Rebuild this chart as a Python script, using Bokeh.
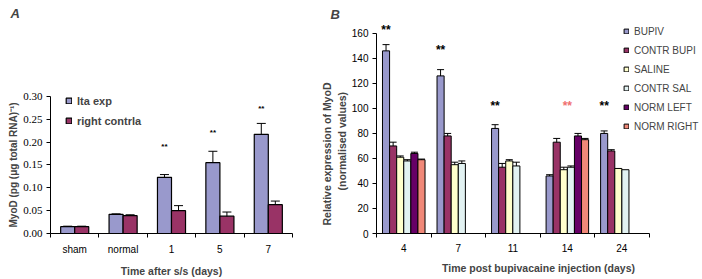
from bokeh.plotting import figure
from bokeh.models import (Range1d, FixedTicker, ColumnDataSource, Whisker, Title,
                          Legend, LegendItem, TeeHead, NumeralTickFormatter)
from bokeh.layouts import row
from bokeh.embed import file_html
from bokeh.resources import INLINE
from bokeh.core.properties import value

# ---------------- Panel A data ----------------
a_categories = ["sham", "normal", "1", "5", "7"]
a_series = ["lta exp", "right contrla"]
a_colors = ["#9999CC", "#993366"]
a_lta = [0.015, 0.042, 0.123, 0.155, 0.217]
a_lta_err = [0.001, 0.001, 0.006, 0.025, 0.024]
a_right = [0.015, 0.039, 0.050, 0.038, 0.063]
a_right_err = [0.001, 0.002, 0.011, 0.009, 0.008]
a_star_y = [None, None, 0.190, 0.222, 0.274]
a_yticks = [0.0, 0.05, 0.10, 0.15, 0.20, 0.25, 0.30]

# ---------------- Panel B data ----------------
b_days = ["4", "7", "11", "14", "24"]
b_series = ["BUPIV", "CONTR BUPI", "SALINE", "CONTR SAL", "NORM LEFT", "NORM RIGHT"]
b_colors = ["#9999CC", "#993366", "#FFFFCC", "#E2F2F2", "#660066", "#F08878"]
b_bupiv = [146, 126, 84, 46, 80]
b_contr_bupi = [70, 78, 53, 73, 66]
b_saline = [61, 55, 58, 51, 52]
b_contr_sal = [58, 56, 54, 53, 51]
b_norm_left = [64, None, None, 78, None]
b_norm_right = [59, None, None, 75, None]
b_bupiv_err = [5, 5, 3, 1, 2]
b_contr_bupi_err = [3, 2, 3, 3, 1]
b_saline_err = [1, 2, 1, 2, 0]
b_contr_sal_err = [1, 2, 3, 1, 0]
b_norm_left_err = [1, None, None, 2, None]
b_norm_right_err = [0.5, None, None, 1, None]
b_star_y = [163, 147, 102, 102, 102]
b_star_on_bupiv = [True, True, True, False, True]
b_star_colors = ["black", "black", "black", "#F07070", "black"]
b_yticks = [0, 20, 40, 60, 80, 100, 120, 140, 160]

SANS = "Liberation Sans"
SERIF = "Liberation Serif"

H = 279
TOP = 22      # top border (px)
BOTTOM = 44   # bottom border (px)
FRAME_H = H - TOP - BOTTOM


def style_axes(p):
    for ax in (p.xaxis, p.yaxis):
        ax.axis_line_color = "black"
        ax.major_tick_line_color = "black"
        ax.minor_tick_line_color = "black"
        ax.major_label_text_color = "black"


# ================= Panel A =================
a_px_per = (234 - 95) / 0.30
pa = figure(width=318, height=H, output_backend="svg", toolbar_location=None,
            x_range=Range1d(0, 5), y_range=Range1d(0, FRAME_H / a_px_per),
            min_border_left=50, min_border_right=26, min_border_top=TOP, min_border_bottom=BOTTOM)
pa.grid.visible = False
pa.outline_line_color = None

bw_a = 0.29
offs_a = [-bw_a / 2, bw_a / 2]
renderers_a = []
for k, (vals, errs) in enumerate([(a_lta, a_lta_err), (a_right, a_right_err)]):
    xs = [i + 0.5 + offs_a[k] for i in range(len(a_categories))]
    src = ColumnDataSource(dict(x=xs, top=vals,
                                upper=[v + e for v, e in zip(vals, errs)],
                                lower=[v - e for v, e in zip(vals, errs)]))
    r = pa.vbar(x="x", top="top", width=bw_a, source=src, fill_color=a_colors[k],
                line_color="black", line_width=1.2)
    renderers_a.append(r)
    pa.add_layout(Whisker(source=src, base="x", upper="upper", lower="lower", dimension="height",
                          line_color="black", line_width=1,
                          upper_head=TeeHead(size=9, line_color="black", line_width=1),
                          lower_head=TeeHead(size=9, line_color="black", line_width=1)))

sx, sy = [], []
for i, y in enumerate(a_star_y):
    if y is not None:
        sx.append(i + 0.5 + offs_a[0])
        sy.append(y)
pa.text(x=sx, y=sy, text=["**"] * len(sx), text_align="center", text_baseline="middle",
        text_font=value(SANS), text_font_size="8px", text_font_style="bold", text_color="black")

centers_a = [i + 0.5 for i in range(len(a_categories))]
pa.xaxis.ticker = FixedTicker(ticks=centers_a, minor_ticks=list(range(len(a_categories) + 1)))
pa.xaxis.major_label_overrides = {c: lab for c, lab in zip(centers_a, a_categories)}
pa.xaxis.major_tick_out = 0
pa.xaxis.major_tick_in = 0
pa.xaxis.minor_tick_out = 4
pa.xaxis.minor_tick_in = 0
pa.xaxis.major_label_standoff = 6
pa.xaxis.major_label_text_font = SANS
pa.xaxis.major_label_text_font_size = "10px"
pa.xaxis.axis_label = "Time after s/s (days)"
pa.xaxis.axis_label_text_font = SANS
pa.xaxis.axis_label_text_font_style = "bold"
pa.xaxis.axis_label_text_font_size = "10.5px"
pa.xaxis.axis_label_standoff = 7

pa.yaxis.ticker = FixedTicker(ticks=a_yticks)
pa.yaxis.formatter = NumeralTickFormatter(format="0.00")
pa.yaxis.bounds = (0, 0.30)
pa.yaxis.major_tick_out = 4
pa.yaxis.major_tick_in = 0
pa.yaxis.minor_tick_out = 0
pa.yaxis.minor_tick_in = 0
pa.yaxis.major_label_standoff = 4
pa.yaxis.major_label_text_font = SERIF
pa.yaxis.major_label_text_font_size = "11px"
style_axes(pa)

pa.add_layout(Title(text="MyoD (pg (\u03bcg total RNA)\u207b\u00b9)", align="left", offset=6,
                    standoff=4, text_font=SANS, text_font_size="10px", text_font_style="bold"), "left")
pa.add_layout(Title(text="A", align="left", offset=-40, standoff=6, vertical_align="bottom",
                    text_font=SANS, text_font_size="13px", text_font_style="bold italic"), "above")

leg_a = Legend(items=[LegendItem(label=s, renderers=[r]) for s, r in zip(a_series, renderers_a)],
               location=(15, 106), border_line_color=None, background_fill_alpha=0,
               padding=0, margin=0, spacing=7, glyph_width=7, glyph_height=7,
               label_standoff=5, label_height=13, label_text_font=SANS,
               label_text_font_size="11px", label_text_font_style="bold")
pa.add_layout(leg_a)

# ================= Panel B =================
b_px_per = (236 - 33) / 160
xr_end = 328 / 55.2
pb = figure(width=384, height=H, output_backend="svg", toolbar_location=None,
            x_range=Range1d(0, xr_end), y_range=Range1d(0, FRAME_H / b_px_per),
            min_border_left=54, min_border_right=2, min_border_top=TOP, min_border_bottom=BOTTOM)
pb.grid.visible = False
pb.outline_line_color = None

bw_b = 0.13
b_values = [b_bupiv, b_contr_bupi, b_saline, b_contr_sal, b_norm_left, b_norm_right]
b_errors = [b_bupiv_err, b_contr_bupi_err, b_saline_err, b_contr_sal_err, b_norm_left_err, b_norm_right_err]
renderers_b = []
for k, (vals, errs) in enumerate(zip(b_values, b_errors)):
    xs, tops, ex = [], [], []
    for i, (v, e) in enumerate(zip(vals, errs)):
        if v is None:
            continue
        x = i + 0.5 + (k - 2.5) * bw_b
        xs.append(x)
        tops.append(v)
        if e:
            ex.append((x, v + e, v - e))
    src = ColumnDataSource(dict(x=xs, top=tops))
    r = pb.vbar(x="x", top="top", width=bw_b, source=src, fill_color=b_colors[k],
                line_color="black", line_width=1)
    renderers_b.append(r)
    if ex:
        esrc = ColumnDataSource(dict(x=[a[0] for a in ex], upper=[a[1] for a in ex],
                                     lower=[a[2] for a in ex]))
        pb.add_layout(Whisker(source=esrc, base="x", upper="upper", lower="lower",
                              dimension="height", line_color="black", line_width=1,
                              upper_head=TeeHead(size=7, line_color="black", line_width=1),
                              lower_head=TeeHead(size=7, line_color="black", line_width=1)))

stx = [i + 0.5 + ((-2.5 * bw_b) if on else 0.0) for i, on in enumerate(b_star_on_bupiv)]
pb.text(x=stx, y=b_star_y, text=["**"] * len(stx), text_color=b_star_colors,
        text_align="center", text_baseline="middle", text_font=value(SANS),
        text_font_size="12px", text_font_style="bold")

centers_b = [i + 0.5 for i in range(len(b_days))]
pb.xaxis.ticker = FixedTicker(ticks=centers_b, minor_ticks=list(range(len(b_days) + 1)))
pb.xaxis.major_label_overrides = {c: lab for c, lab in zip(centers_b, b_days)}
pb.xaxis.bounds = (0, 5)
pb.xaxis.major_tick_out = 0
pb.xaxis.major_tick_in = 0
pb.xaxis.minor_tick_out = 4
pb.xaxis.minor_tick_in = 0
pb.xaxis.major_label_standoff = 6
pb.xaxis.major_label_text_font = SANS
pb.xaxis.major_label_text_font_size = "10px"
pb.xaxis.axis_label = "Time post bupivacaine injection (days)"
pb.xaxis.axis_label_text_font = SANS
pb.xaxis.axis_label_text_font_style = "bold"
pb.xaxis.axis_label_text_font_size = "10.5px"
pb.xaxis.axis_label_standoff = 7

pb.yaxis.ticker = FixedTicker(ticks=b_yticks)
pb.yaxis.bounds = (0, 160)
pb.yaxis.major_tick_out = 4
pb.yaxis.major_tick_in = 0
pb.yaxis.minor_tick_out = 0
pb.yaxis.minor_tick_in = 0
pb.yaxis.major_label_standoff = 4
pb.yaxis.major_label_text_font = SANS
pb.yaxis.major_label_text_font_size = "10px"
style_axes(pb)

pb.add_layout(Title(text="(normalised  values)", align="left", offset=43, standoff=2,
                    text_font=SANS, text_font_size="10.5px", text_font_style="bold"), "left")
pb.add_layout(Title(text="Relative expression of MyoD", align="left", offset=8, standoff=0,
                    text_font=SANS, text_font_size="10.5px", text_font_style="bold"), "left")
pb.add_layout(Title(text="B", align="left", offset=-46, standoff=4, vertical_align="bottom",
                    text_font=SANS, text_font_size="13px", text_font_style="bold italic"), "above")

leg_b = Legend(items=[LegendItem(label=s, renderers=[r]) for s, r in zip(b_series, renderers_b)],
               location=(247, 101), border_line_color=None, background_fill_alpha=0,
               padding=0, margin=0, spacing=7, glyph_width=6, glyph_height=6,
               label_standoff=5, label_height=12, label_text_font=SANS,
               label_text_font_size="10px")
pb.add_layout(leg_b)

layout = row(pa, pb)
open("out.html", "w").write(file_html(layout, INLINE))
